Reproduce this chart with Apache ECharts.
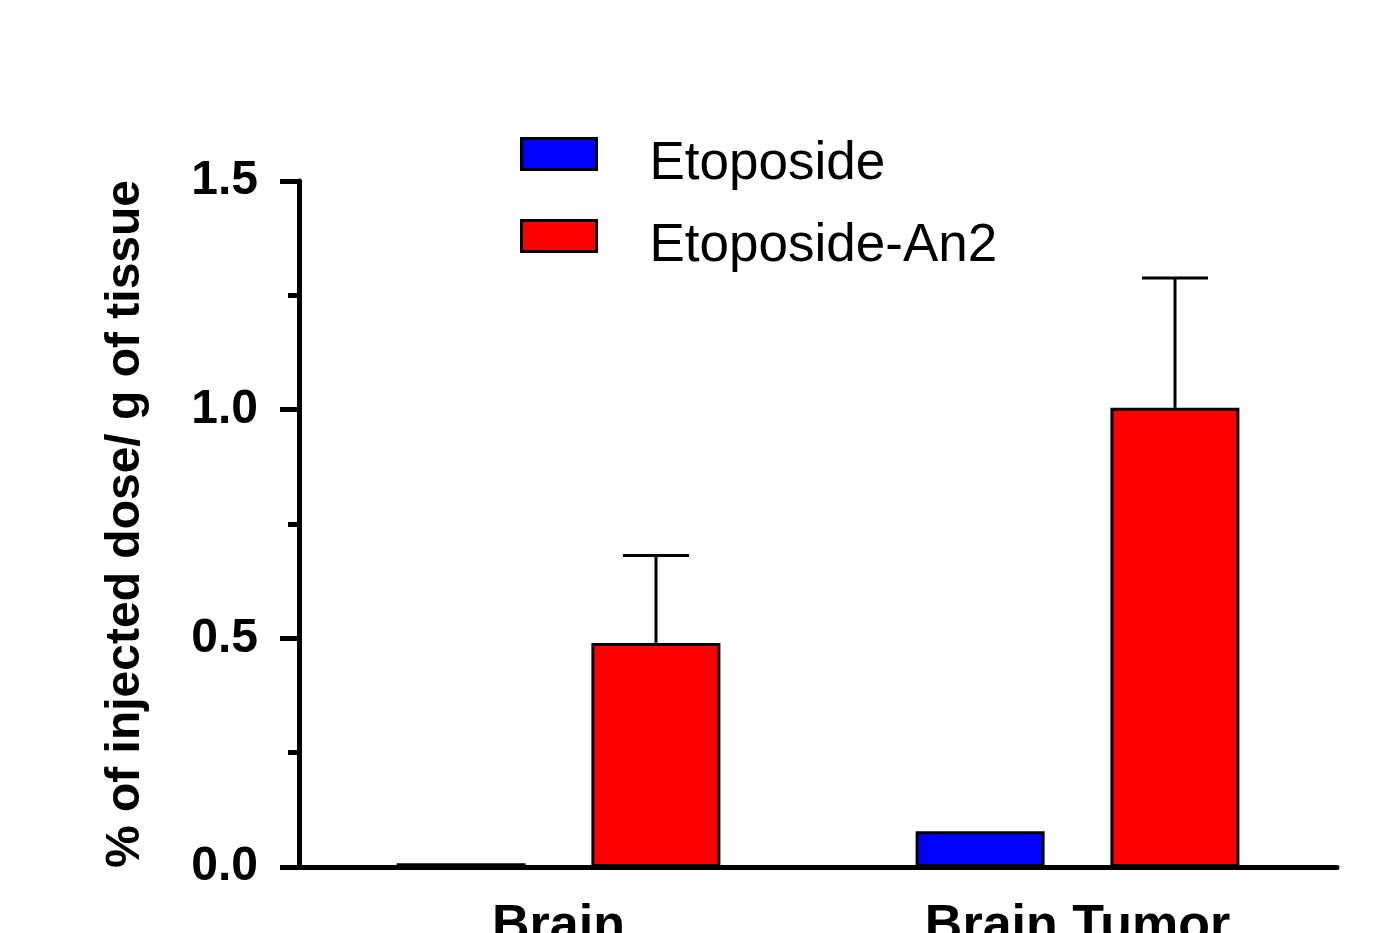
<!DOCTYPE html>
<html>
<head>
<meta charset="utf-8">
<script src="https://cdn.jsdelivr.net/npm/echarts@6/dist/echarts.min.js"></script>
<style>html,body{margin:0;padding:0;background:#fff}#c{width:1389px;height:933px}</style>
</head>
<body>
<div id="c"></div>
<script>
const categories = ['Brain', 'Brain Tumor'];
const seriesNames = ['Etoposide', 'Etoposide-An2'];
const etoposide = [0.008, 0.078];
const etoposideAn2 = [0.49, 1.004];
const etoposideAn2Err = [0.191, 0.284];
const yTicks = [0, 0.5, 1.0, 1.5];

const FONT = 'Arial, "Liberation Sans", sans-serif';
const chart = echarts.init(document.getElementById('c'), null, {renderer: 'canvas'});

const errData = categories.map((c, i) => [i, etoposideAn2[i], etoposideAn2[i] + etoposideAn2Err[i]]);

chart.setOption({
  animation: false,
  backgroundColor: '#fff',
  grid: {left: 299, right: 52, top: 181, bottom: 66, containLabel: false, outerBoundsMode: 'none'},
  legend: {
    orient: 'vertical',
    left: 515,
    top: 112,
    itemWidth: 75,
    itemHeight: 31,
    itemGap: 8,
    icon: 'rect',
    selectedMode: false,
    data: seriesNames,
    itemStyle: {borderColor: '#000', borderWidth: 3},
    formatter: name => '{t|' + name + '}',
    textStyle: {
      fontFamily: FONT, fontSize: 53, color: '#000',
      rich: {t: {fontFamily: FONT, fontSize: 53, color: '#000', lineHeight: 53, padding: [21, 0, 0, 48]}}
    }
  },
  xAxis: {
    type: 'category',
    data: categories,
    axisLine: {lineStyle: {color: '#000', width: 5}},
    axisTick: {show: false},
    axisLabel: {color: '#000', fontFamily: FONT, fontWeight: 'bold', fontSize: 52, margin: 34}
  },
  yAxis: {
    type: 'value',
    min: 0,
    max: 1.5,
    interval: 0.5,
    name: '% of injected dose/ g of tissue',
    nameLocation: 'middle',
    nameGap: 149,
    nameTextStyle: {color: '#000', fontFamily: FONT, fontWeight: 'bold', fontSize: 48},
    axisLine: {show: true, lineStyle: {color: '#000', width: 5}},
    axisTick: {show: true, length: 19, lineStyle: {color: '#000', width: 5}},
    minorTick: {show: true, splitNumber: 2, length: 11, lineStyle: {color: '#000', width: 5}},
    splitLine: {show: false},
    axisLabel: {
      color: '#000', fontFamily: FONT, fontWeight: 'bold', fontSize: 48, margin: 41,
      padding: [6, 0, 0, 0],
      formatter: v => yTicks.includes(v) ? v.toFixed(1) : ''
    }
  },
  series: [
    {
      name: seriesNames[0], type: 'bar', data: etoposide,
      barWidth: 129, barGap: '51%',
      itemStyle: {color: '#0000ff', borderColor: '#000', borderWidth: 3}
    },
    {
      name: seriesNames[1], type: 'bar', data: etoposideAn2,
      barWidth: 129, barGap: '51%',
      itemStyle: {color: '#ff0000', borderColor: '#000', borderWidth: 3}
    },
    {
      type: 'custom',
      z: 5,
      silent: true,
      data: errData,
      renderItem: function (params, api) {
        const band = api.size([1, 0])[0];
        const off = band * 97.5 / 519;
        const cap = band * 33 / 519;
        const base = api.coord([api.value(0), api.value(1)]);
        const top = api.coord([api.value(0), api.value(2)]);
        const x = base[0] + off;
        const style = {stroke: '#000', lineWidth: 3};
        return {
          type: 'group',
          children: [
            {type: 'line', shape: {x1: x, y1: base[1], x2: x, y2: top[1]}, style: style},
            {type: 'line', shape: {x1: x - cap, y1: top[1], x2: x + cap, y2: top[1]}, style: style}
          ]
        };
      }
    }
  ]
});
</script>
</body>
</html>
